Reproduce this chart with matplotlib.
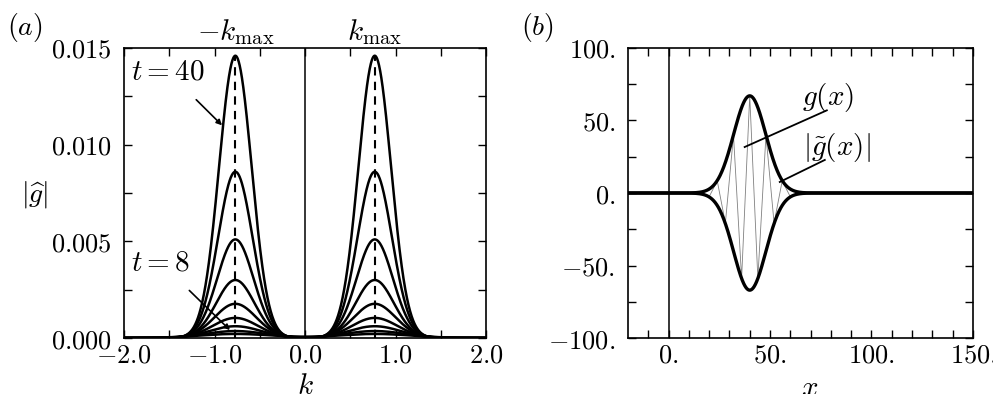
import numpy as np
import matplotlib
matplotlib.use("Agg")
import matplotlib.pyplot as plt

plt.rcParams['mathtext.fontset'] = 'cm'
plt.rcParams['font.family'] = ['DejaVu Serif']

# panel (a): spectra |g^(k)| at times t = 8, 12, ..., 40
times = [8, 12, 16, 20, 24, 28, 32, 36, 40]
peak_heights = [0.00021, 0.00036, 0.00061, 0.00104, 0.00177, 0.0030, 0.0051, 0.0086, 0.0146]
peak_widths = [0.40, 0.33, 0.28, 0.25, 0.23, 0.21, 0.20, 0.19, 0.18]
k_max = 0.77

# panel (b): envelope |g~(x)| and the real field g(x)
env_amp = 67.0
env_center = 40.0
env_width = 7.9
x_step = 4.0   # coarse sampling of g(x) as in the original

a_xticks = [-2.0, -1.0, 0.0, 1.0, 2.0]
a_xlabels = [r'$-2.0$', r'$-1.0$', r'$0.0$', r'$1.0$', r'$2.0$']
a_yticks = [0.0, 0.005, 0.010, 0.015]
a_ylabels = [r'$0.000$', r'$0.005$', r'$0.010$', r'$0.015$']
b_xticks = [0, 50, 100, 150]
b_xlabels = [r'$0.$', r'$50.$', r'$100.$', r'$150.$']
b_yticks = [-100, -50, 0, 50, 100]
b_ylabels = [r'$-100.$', r'$-50.$', r'$0.$', r'$50.$', r'$100.$']

fs = 19
lfs = 21

fig = plt.figure(figsize=(9.93, 3.94), dpi=100)
ax1 = fig.add_axes([0.1249, 0.1421, 0.3646, 0.7361])
ax2 = fig.add_axes([0.6324, 0.1421, 0.3474, 0.7361])

def style(ax):
    ax.tick_params(which='both', direction='in', top=True, right=True,
                   length=6, width=1, labelsize=fs)
    ax.tick_params(axis='y', pad=9)
    ax.tick_params(axis='x', pad=3)
    for s in ax.spines.values():
        s.set_linewidth(1.2)

# ---- (a)
k = np.linspace(-2, 2, 1601)
for h, w in zip(peak_heights, peak_widths):
    g = h * (np.exp(-(k - k_max)**2 / (2 * w**2)) + np.exp(-(k + k_max)**2 / (2 * w**2)))
    ax1.plot(k, g, color='k', lw=1.8)
for km in (-k_max, k_max):
    ax1.plot([km, km], [0, max(peak_heights)], color='k', lw=1.5, ls=(0, (4, 3)))
ax1.axvline(0, color='k', lw=1.1)
ax1.set_xlim(-2, 2)
ax1.set_ylim(0, 0.015)
ax1.set_xticks(a_xticks)
ax1.set_xticklabels(a_xlabels)
ax1.set_xticks(np.arange(-1.5, 2, 1.0), minor=True)
ax1.set_yticks(a_yticks)
ax1.set_yticklabels(a_ylabels)
ax1.set_yticks([0.0025, 0.0075, 0.0125], minor=True)
style(ax1)

ax1.annotate(r'$t=40$', xy=(-0.917, 0.0110), xytext=(-1.52, 0.0138), fontsize=lfs,
             ha='center', va='center',
             arrowprops=dict(arrowstyle='-|>', color='k', lw=1.2, shrinkA=12, shrinkB=0,
                             mutation_scale=8))
ax1.annotate(r'$t=8$', xy=(-0.83, 0.00041), xytext=(-1.6, 0.00393), fontsize=lfs,
             ha='center', va='center',
             arrowprops=dict(arrowstyle='-|>', color='k', lw=1.2, shrinkA=12, shrinkB=0,
                             mutation_scale=8))
ax1.text(-k_max, 1.055, r'$-k_{\mathrm{max}}$', transform=ax1.get_xaxis_transform(),
         fontsize=lfs, ha='center', va='center')
ax1.text(k_max, 1.055, r'$k_{\mathrm{max}}$', transform=ax1.get_xaxis_transform(),
         fontsize=lfs, ha='center', va='center')

fig.text(25 / 993, 1 - 28 / 394, r'$(a)$', fontsize=20, ha='center', va='center')
fig.text(35 / 993, 1 - 195 / 394, r'$|\widehat{g}|$', fontsize=20, ha='center', va='center')
fig.text(305 / 993, 1 - 386 / 394, r'$k$', fontsize=lfs, ha='center', va='center')

# ---- (b)
x = np.linspace(-20, 150, 1701)
env = env_amp * np.exp(-(x - env_center)**2 / (2 * env_width**2))
xs = np.arange(-20, 150.01, x_step)
gx = env_amp * np.exp(-(xs - env_center)**2 / (2 * env_width**2)) * np.cos(k_max * (xs - env_center))
ax2.plot(xs, gx, color='0.5', lw=0.6)
ax2.plot(x, env, color='k', lw=2.4)
ax2.plot(x, -env, color='k', lw=2.4)
ax2.axvline(0, color='k', lw=1.1)
ax2.set_xlim(-20, 150)
ax2.set_ylim(-100, 100)
ax2.set_xticks(b_xticks)
ax2.set_xticklabels(b_xlabels)
ax2.set_xticks([t for t in range(-10, 150, 10) if t % 50], minor=True)
ax2.set_yticks(b_yticks)
ax2.set_yticklabels(b_ylabels)
ax2.set_yticks([-75, -25, 25, 75], minor=True)
style(ax2)

ax2.plot([78, 37.5], [57, 31.7], color='k', lw=1.3)
ax2.text(78.4, 66, r'$g(x)$', fontsize=lfs, ha='center', va='center')
ax2.plot([77, 54.8], [22.8, 7.6], color='k', lw=1.3)
ax2.text(83, 31.7, r'$|\tilde{g}(x)|$', fontsize=lfs, ha='center', va='center')

fig.text(537 / 993, 1 - 28 / 394, r'$(b)$', fontsize=20, ha='center', va='center')
fig.text(810 / 993, 1 - 388 / 394, r'$x$', fontsize=lfs, ha='center', va='center')

fig.savefig('out.png', dpi=100)
